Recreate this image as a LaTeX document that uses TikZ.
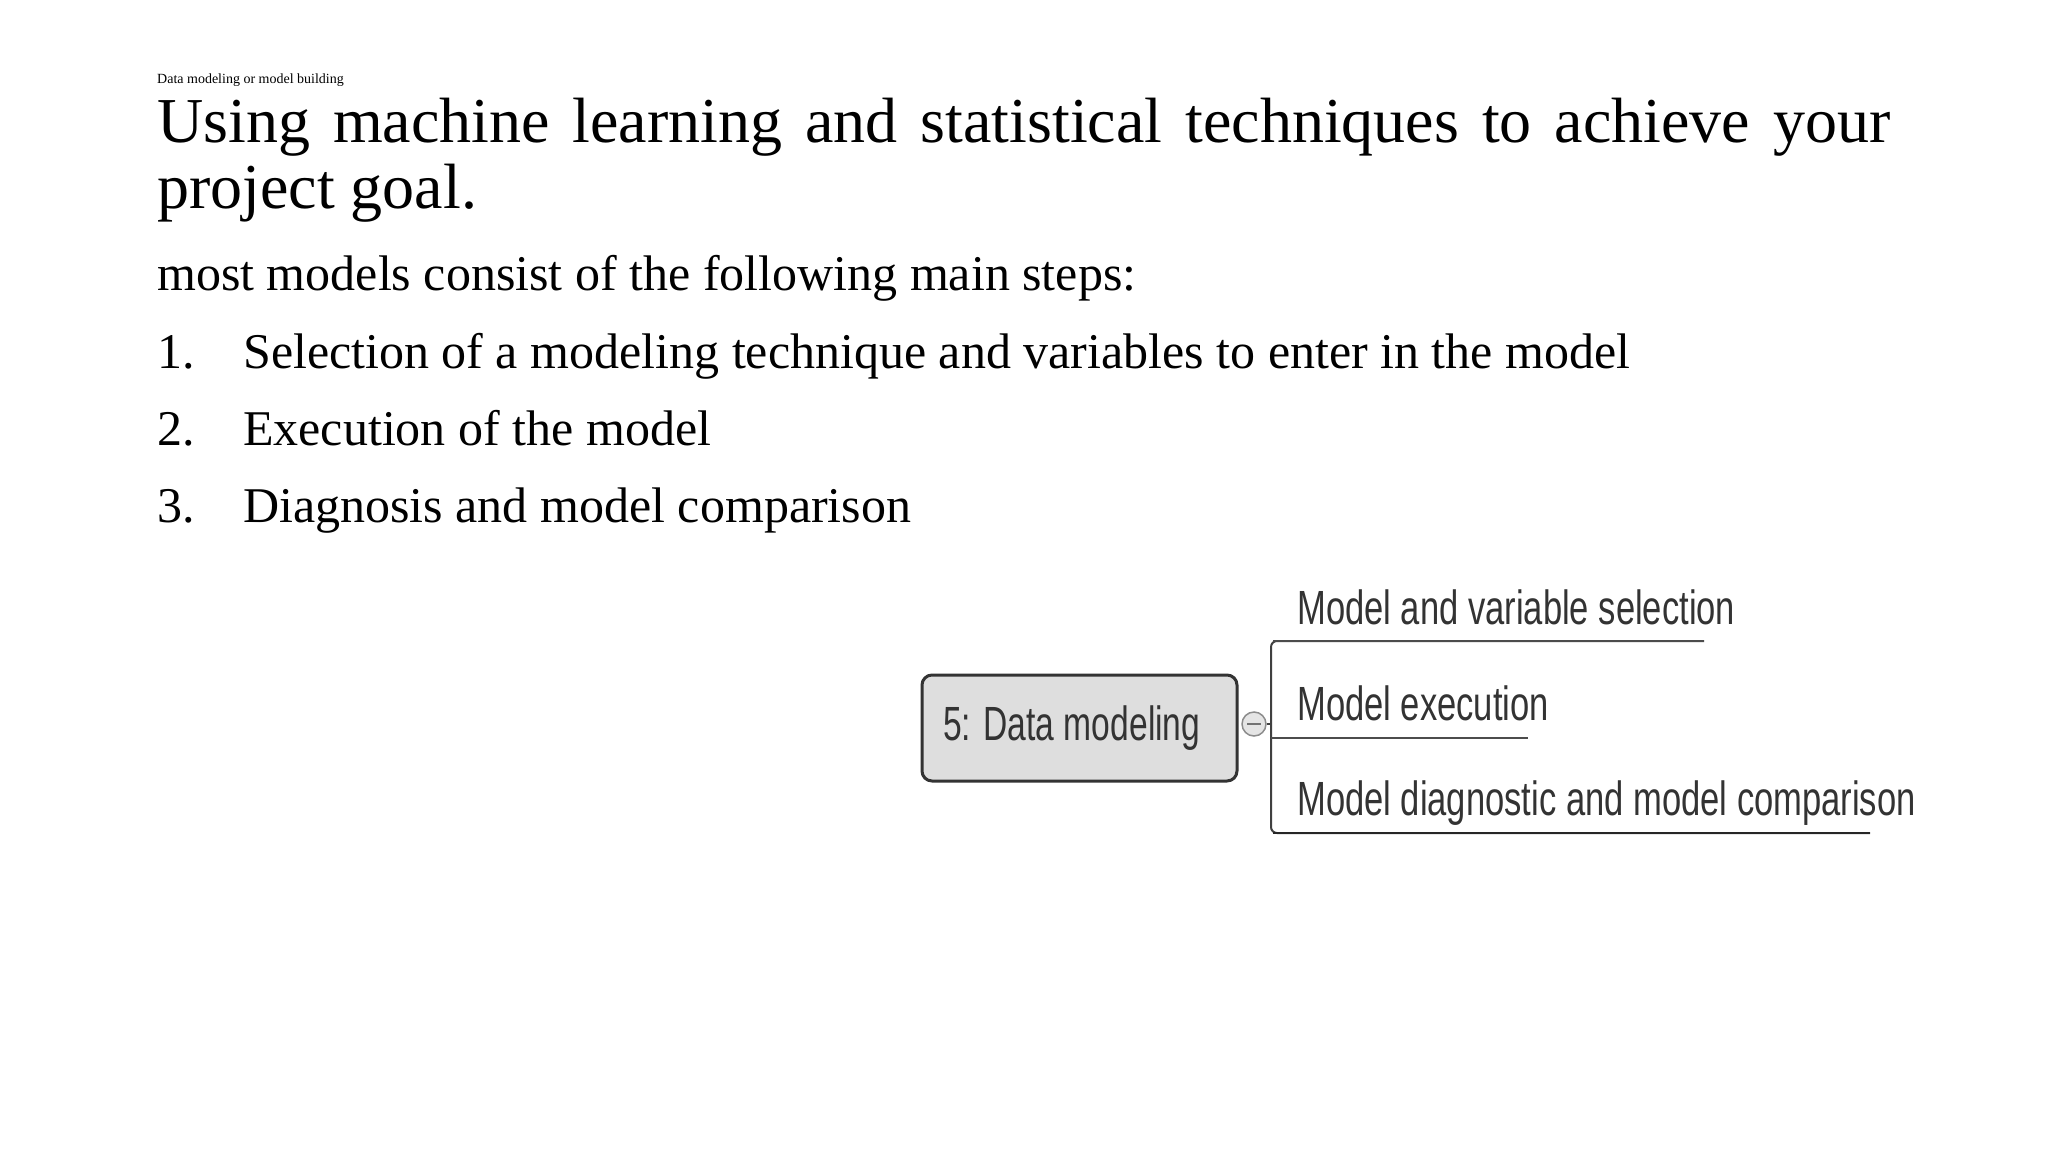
\documentclass[tikz,border=0pt]{standalone}
\usepackage{fontspec}
\setmainfont{Liberation Serif}
\newfontfamily\arialf{Liberation Sans}
\begin{document}
\begin{tikzpicture}[x=1pt,y=-1pt,
  body/.style={anchor=base west,inner sep=0pt,font=\fontsize{50}{60}\selectfont},
  branch/.style={anchor=base west,inner sep=0pt,font=\arialf\fontsize{48}{50}\selectfont,text=black!80},
  uline/.style={line width=2.5pt,draw=black!70}]
\useasboundingbox (0,0) rectangle (2048,1152);
\node[anchor=base west,inner sep=0pt,font=\fontsize{14}{16}\selectfont] (small) at (157,83) {Data modeling or model building};
\node[anchor=north west,inner sep=0pt,text width=1733pt,align=justify,font=\fontsize{64}{66}\selectfont] (head) at (157,98) {Using machine learning and statistical techniques to achieve your project goal.};
\node[body] (intro) at (157,290) {most models consist of the following main steps:};
\node[body] (n1) at (157,368) {1.};
\node[body] (t1) at (243,368) {Selection of a modeling technique and variables to enter in the model};
\node[body] (n2) at (157,445) {2.};
\node[body] (t2) at (243,445) {Execution of the model};
\node[body] (n3) at (157,522) {3.};
\node[body] (t3) at (243,522) {Diagnosis and model comparison};
% diagram
\draw[line width=3pt,draw=black!80,fill=black!13,rounded corners=10pt] (922,675) rectangle (1237,781);
\node[anchor=west,inner sep=0pt,text=black!80] (dm) at (943,728) {\arialf\fontsize{48}{50}\selectfont\scalebox{0.7}[1]{5: Data modeling}};
\node[circle,draw=black!45,fill=black!10,line width=1.5pt,minimum size=24pt,inner sep=0pt] (col) at (1254,724) {};
\draw[black!55,line width=2pt] ([xshift=-7]col.center) -- ([xshift=7]col.center);
\coordinate (top) at (1271,641);
\coordinate (bot) at (1271,833);
\draw[black!75,line width=2pt,rounded corners=6pt] (1704,641) -- (top) -- (bot) -- (1870,833);
\draw[uline] (1273,641) -- (1704,641);
\draw[uline] (1271,738) -- (1528,738);
\draw[uline,draw=black!85] (1273,833) -- (1870,833);
\node[inner sep=0pt,anchor=base west] (b1) at (1297,624) {\arialf\fontsize{48}{50}\selectfont\color{black!80}\scalebox{0.72}[1]{Model and variable selection}};
\node[inner sep=0pt,anchor=base west] (b2) at (1297,720) {\arialf\fontsize{48}{50}\selectfont\color{black!80}\scalebox{0.72}[1]{Model execution}};
\node[inner sep=0pt,anchor=base west] (b3) at (1297,815) {\arialf\fontsize{48}{50}\selectfont\color{black!80}\scalebox{0.72}[1]{Model diagnostic and model comparison}};
\draw[black!75,line width=1.5pt] (col.east) -- (1271,724);
\end{tikzpicture}
\end{document}
